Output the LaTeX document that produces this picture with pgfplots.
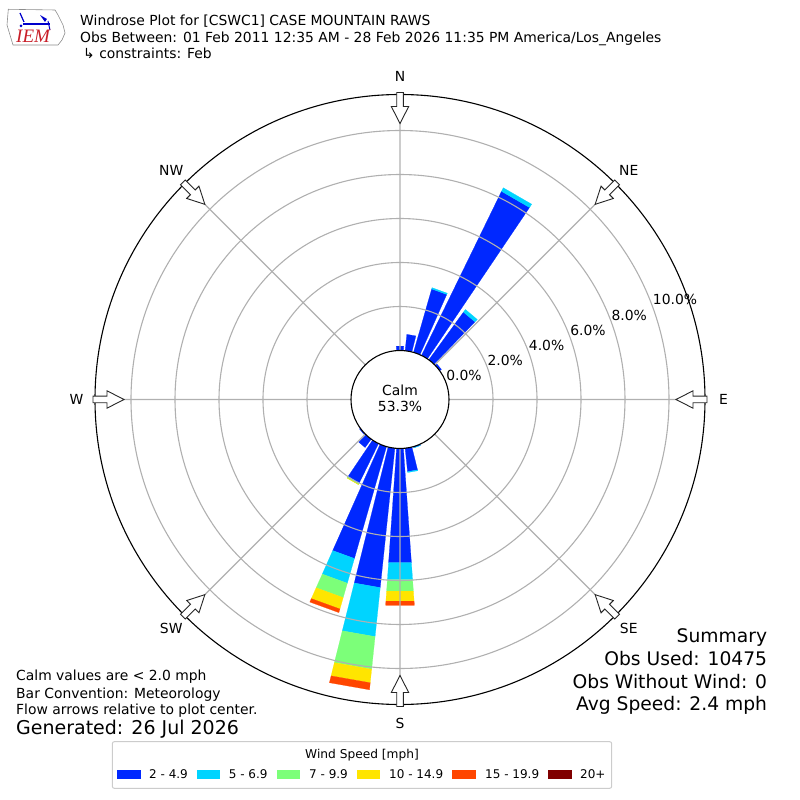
\documentclass[border=0pt]{standalone}
\usepackage{pgfplots}
\pgfplotsset{compat=1.18}
\usepackage{pgfplotstable}
\usepgfplotslibrary{polar}
\usepackage{fontspec}
\setmainfont{DejaVu Sans}
\newfontfamily\logofont{Liberation Serif}
\definecolor{wsA}{RGB}{0,40,255}
\definecolor{wsB}{RGB}{0,212,255}
\definecolor{wsC}{RGB}{124,255,121}
\definecolor{wsD}{RGB}{255,229,0}
\definecolor{wsE}{RGB}{255,70,0}
\definecolor{wsF}{RGB}{128,0,0}
\definecolor{gridgray}{RGB}{176,176,176}
\definecolor{logored}{RGB}{200,30,40}

% cumulative percentages per direction (meteorological, degrees from north)
\pgfplotstableread{
dir b1 b2 b3 b4 b5 b6
0   0.20 0.20 0.20 0.20 0.20 0.20
10  0.75 0.75 0.75 0.75 0.75 0.75
20  3.00 3.06 3.06 3.06 3.06 3.06
30  8.30 8.48 8.48 8.48 8.48 8.48
40  2.68 2.83 2.83 2.83 2.83 2.83
50  0.10 0.10 0.10 0.10 0.10 0.10
160 0.05 0.06 0.06 0.06 0.06 0.06
170 1.07 1.11 1.11 1.11 1.11 1.11
180 5.21 5.98 6.51 6.96 7.15 7.15
190 6.37 8.61 10.10 10.72 11.04 11.04
200 5.29 6.46 7.14 7.68 7.85 7.85
210 2.00 2.02 2.07 2.08 2.08 2.08
220 0.47 0.47 0.47 0.47 0.47 0.47
230 0.05 0.05 0.05 0.05 0.05 0.05
}\rosetable

\newcommand\off{2.2273}
\newcommand\seg[4]{%
  \pgfmathtruncatemacro\ok{((#4)-(#3))>0.001}%
  \ifnum\ok=1
  \pgfmathsetmacro\base{mod(450-(#2),360)}%
  \pgfmathsetmacro\aL{\base-4}%
  \pgfmathsetmacro\aR{\base+4}%
  \pgfmathsetmacro\rL{(#3)+\off}%
  \pgfmathsetmacro\rH{(#4)+\off}%
  \edef\tmp{\noexpand\addplot[fill=#1,draw=#1,line width=0.2pt,forget plot] coordinates {(\aL,\rL) (\aR,\rL) (\aR,\rH) (\aL,\rH) (\aL,\rL)};}%
  \tmp
  \fi}

\begin{document}
\begin{tikzpicture}[x=1pt,y=1pt]
\path[use as bounding box] (0,0) rectangle (800,800);
\begin{polaraxis}[
  at={(400pt,400.5pt)}, anchor=center,
  scale only axis, width=610pt, height=610pt,
  xmin=0, xmax=360,
  ymin=0, ymax=13.864,
  xtick={0,45,...,315},
  ytick={4.2273,6.2273,8.2273,10.2273,12.2273},
  xticklabels={,,}, yticklabels={,,},
  grid=major,
  major grid style={color=gridgray, line width=1.1pt},
  axis line style={black, line width=1.1pt},
  y axis line style={draw=none},
  major tick length=0pt,
  clip=false,
  axis on top,
]
\pgfplotstablegetrowsof{\rosetable}
\pgfmathtruncatemacro\lastrow{\pgfplotsretval-1}
\pgfplotsforeachungrouped \i in {0,...,\lastrow}{%
  \pgfplotstablegetelem{\i}{dir}\of\rosetable \edef\d{\pgfplotsretval}%
  \pgfplotstablegetelem{\i}{b1}\of\rosetable \edef\bA{\pgfplotsretval}%
  \pgfplotstablegetelem{\i}{b2}\of\rosetable \edef\bB{\pgfplotsretval}%
  \pgfplotstablegetelem{\i}{b3}\of\rosetable \edef\bC{\pgfplotsretval}%
  \pgfplotstablegetelem{\i}{b4}\of\rosetable \edef\bD{\pgfplotsretval}%
  \pgfplotstablegetelem{\i}{b5}\of\rosetable \edef\bE{\pgfplotsretval}%
  \pgfplotstablegetelem{\i}{b6}\of\rosetable \edef\bF{\pgfplotsretval}%
  \seg{wsA}{\d}{0}{\bA}%
  \seg{wsB}{\d}{\bA}{\bB}%
  \seg{wsC}{\d}{\bB}{\bC}%
  \seg{wsD}{\d}{\bC}{\bD}%
  \seg{wsE}{\d}{\bD}{\bE}%
  \seg{wsF}{\d}{\bE}{\bF}%
}
\end{polaraxis}

% calm circle
\draw[fill=white, draw=black, line width=1.1pt] (400,400.5) circle (49);
\node[anchor=base, inner sep=0, font=\fontsize{13.9}{16}\selectfont] at (400,404.7) {Calm};
\node[anchor=base, inner sep=0, font=\fontsize{13.9}{16}\selectfont] at (400,388.3) {53.3\%};

% flow arrows
\foreach \ang in {0,45,...,315} {
  \begin{scope}[shift={(400,400.5)}, rotate=\ang]
    \draw[fill=white, draw=black!85, line width=0.9pt, line join=miter]
      (307,3.3) -- (293,3.3) -- (293,8.7) -- (276,0) -- (293,-8.7) -- (293,-3.3) -- (307,-3.3) -- cycle;
  \end{scope}
}

% compass labels
\begin{scope}[font=\fontsize{13.9}{16}\selectfont]
\foreach \ang/\lab in {90/N,45/NE,0/E,-45/SE,-90/S,-135/SW,180/W,135/NW} {
  \node[inner sep=0] at ([shift={(400,400.5)}]\ang:323.5) {\lab};
}
% radial labels
\foreach \r/\lab in {49/0.0,93/2.0,137/4.0,181/6.0,225/8.0,269/10.0} {
  \node[anchor=base west, inner sep=0] at ([shift={(400,403)}]20:\r) {\lab\%};
}
\end{scope}

% title
\begin{scope}[font=\fontsize{13.9}{16}\selectfont]
\node[anchor=base west, inner sep=0] at (80,774) {Windrose Plot for [CSWC1] CASE MOUNTAIN RAWS};
\node[anchor=base west, inner sep=0] at (80,757.5) {Obs Between: 01 Feb 2011 12:35 AM - 28 Feb 2026 11:35 PM America/Los\_Angeles};
\node[anchor=base west, inner sep=0] at (83,741) {↳ constraints: Feb};
% left notes
\node[anchor=base west, inner sep=0] at (16,119) {Calm values are < 2.0 mph};
\node[anchor=base west, inner sep=0] at (16,101.7) {Bar Convention: Meteorology};
\node[anchor=base west, inner sep=0] at (16,85) {Flow arrows relative to plot center.};
\end{scope}
\node[anchor=base west, inner sep=0, font=\fontsize{19}{22}\selectfont] at (16,65) {Generated: 26 Jul 2026};

% summary
\begin{scope}[font=\fontsize{18.7}{22}\selectfont]
\node[anchor=base east, inner sep=0] at (767.3,157.7) {Summary};
\node[anchor=base east, inner sep=0] at (767.3,134.7) {Obs Used: 10475};
\node[anchor=base east, inner sep=0] at (767.3,111.7) {Obs Without Wind: 0};
\node[anchor=base east, inner sep=0] at (767.3,89) {Avg Speed: 2.4 mph};
\end{scope}

% legend
\draw[draw=black!20, fill=white, rounded corners=2, line width=1pt] (112.3,11.7) rectangle (611.7,58.3);
\node[anchor=base, inner sep=0, font=\fontsize{12.2}{14}\selectfont] at (362,41.3) {Wind Speed [mph]};
\begin{scope}[font=\fontsize{12}{14}\selectfont]
\foreach \xa/\xb/\xt/\col/\lab in {116.7/141/149/wsA/2 - 4.9, 196.7/220.3/228.7/wsB/5 - 6.9, 277/300.3/309/wsC/7 - 9.9, 357/380.3/389/wsD/10 - 14.9, 452.3/476.3/485/wsE/15 - 19.9, 547.7/572/580/wsF/20+} {
  \fill[\col] (\xa,21.3) rectangle (\xb,30);
  \node[anchor=base west, inner sep=0] at (\xt,21.3) {\lab};
}
\end{scope}

% logo
\draw[black!45, line width=0.6pt] (8.3,790.7) -- (55,790) -- (58,785) -- (63,775) -- (65,767) -- (62,760) -- (58,755) -- (13,755) -- (10,765) -- (7,775) -- cycle;
\draw[blue!80!black, line width=1.2pt] (20,787) -- (24,778);
\draw[blue!80!black, line width=1.8pt] (23,776) -- (50,776);
\fill[blue!80!black] (40,785) -- (47,781) -- (45,778) -- cycle;
\draw[blue!80!black, line width=1pt] (48,779) -- (50,770);
\fill[blue!80!black] (21,774) circle (1.5);
\node[anchor=base west, inner sep=0, text=logored, font=\logofont\itshape\fontsize{19}{22}\selectfont] at (16,757) {IEM};
\end{tikzpicture}
\end{document}
